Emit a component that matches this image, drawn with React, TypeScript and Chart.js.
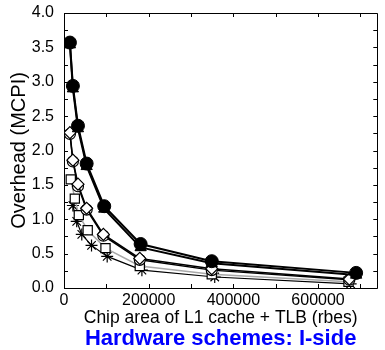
import { useEffect, useRef } from "react";
import { Chart, registerables } from "chart.js";

Chart.register(...registerables);

// Chip area (rbes) and overhead (MCPI) per series
const blackCircleX = [14000, 21000, 33000, 53500, 95000, 181000, 349000, 690000];
const blackCircleY = [3.57, 2.94, 2.36, 1.81, 1.19, 0.64, 0.39, 0.22];
const blackTriangleX = [14000, 21000, 33000, 53500, 95000, 181000, 349000, 690000];
const blackTriangleY = [3.54, 2.9, 2.32, 1.77, 1.15, 0.59, 0.36, 0.19];
const openDiamondX = [14000, 21000, 33000, 53500, 93000, 179000, 349000, 674000];
const openDiamondY = [2.26, 1.86, 1.51, 1.16, 0.78, 0.43, 0.28, 0.13];
const openCircleX = [14000, 21000, 33000, 53500, 93000, 179000, 349000, 674000];
const openCircleY = [2.24, 1.84, 1.48, 1.14, 0.76, 0.41, 0.26, 0.12];
const squareX = [16000, 25600, 35000, 56000, 98000, 179000, 349000, 672000];
const squareY = [1.58, 1.3, 1.06, 0.84, 0.58, 0.32, 0.2, 0.09];
const asteriskX = [21000, 30000, 42000, 65000, 102000, 184000, 356000, 677000];
const asteriskY = [1.2, 0.97, 0.78, 0.62, 0.46, 0.26, 0.16, 0.06];

const xMin = 0;
const xMax = 740000;
const xMinorStep = 100000;
const xLabels = [0, 200000, 400000, 600000];
const yMin = 0;
const yMax = 4;
const yMinorStep = 0.25;
const yLabels = [0, 0.5, 1, 1.5, 2, 2.5, 3, 3.5, 4];

const xTitle = "Chip area of L1 cache + TLB (rbes)";
const yTitle = "Overhead (MCPI)";
const chartTitle = "Hardware schemes: I-side";

const FONT = "'Liberation Sans', Arial, Helvetica, sans-serif";

const pts = (xs: number[], ys: number[]) => xs.map((x, i) => ({ x, y: ys[i] }));

const framePlugin = {
  id: "frame",
  afterLayout(chart: any) {
    const tb = chart.titleBlock;
    if (tb) {
      tb.left = chart.chartArea.left;
      tb.right = chart.chartArea.right;
    }
  },
  beforeDatasetsDraw(chart: any) {
    const { ctx, chartArea } = chart;
    const { left, right, top, bottom } = chartArea;
    const xs = chart.scales.x;
    const ys = chart.scales.y;
    ctx.save();
    ctx.strokeStyle = "#000";
    ctx.lineWidth = 1;
    ctx.beginPath();
    ctx.rect(Math.round(left) + 0.5, Math.round(top) + 0.5, Math.round(right - left), Math.round(bottom - top));
    ctx.stroke();
    ctx.beginPath();
    const tl = 4;
    for (let v = xMin; v <= xMax + 1e-6; v += xMinorStep) {
      const p = Math.round(xs.getPixelForValue(v)) + 0.5;
      ctx.moveTo(p, bottom);
      ctx.lineTo(p, bottom - tl);
      ctx.moveTo(p, top);
      ctx.lineTo(p, top + tl);
    }
    for (let v = yMin; v <= yMax + 1e-6; v += yMinorStep) {
      const p = Math.round(ys.getPixelForValue(v)) + 0.5;
      ctx.moveTo(left, p);
      ctx.lineTo(left + tl, p);
      ctx.moveTo(right, p);
      ctx.lineTo(right - tl, p);
    }
    ctx.stroke();
    ctx.restore();
  },
};

export default function App() {
  const ref = useRef<HTMLCanvasElement | null>(null);

  useEffect(() => {
    document.body.style.margin = "0";
    if (!ref.current) return;
    const chart = new Chart(ref.current, {
      type: "line",
      data: {
        datasets: [
          {
            label: "a",
            data: pts(blackCircleX, blackCircleY),
            borderColor: "#000",
            borderWidth: 2,
            pointStyle: "circle",
            pointRadius: 6.5,
            pointBackgroundColor: "#000",
            pointBorderColor: "#000",
            pointBorderWidth: 1,
          },
          {
            label: "b",
            data: pts(blackTriangleX, blackTriangleY),
            borderColor: "#000",
            borderWidth: 2,
            pointStyle: "triangle",
            pointRadius: 6.5,
            pointBackgroundColor: "#000",
            pointBorderColor: "#000",
            pointBorderWidth: 1,
          },
          {
            label: "c",
            data: pts(openDiamondX, openDiamondY),
            borderColor: "#000",
            borderWidth: 1.5,
            pointStyle: "rectRot",
            pointRadius: 6,
            pointBackgroundColor: "#fff",
            pointBorderColor: "#000",
            pointBorderWidth: 1.2,
          },
          {
            label: "d",
            data: pts(openCircleX, openCircleY),
            borderColor: "#000",
            borderWidth: 1.5,
            pointStyle: "circle",
            pointRadius: 5.5,
            pointBackgroundColor: "#fff",
            pointBorderColor: "#000",
            pointBorderWidth: 1.2,
          },
          {
            label: "e",
            data: pts(squareX, squareY),
            borderColor: "#a8a8a8",
            borderWidth: 1.5,
            pointStyle: "rect",
            pointRadius: 6.5,
            pointBackgroundColor: "#fff",
            pointBorderColor: "#000",
            pointBorderWidth: 1.2,
          },
          {
            label: "f",
            data: pts(asteriskX, asteriskY),
            borderColor: "#000",
            borderWidth: 1.2,
            pointStyle: "star",
            pointRadius: 6,
            pointBackgroundColor: "#000",
            pointBorderColor: "#000",
            pointBorderWidth: 1.2,
          },
        ],
      },
      options: {
        animation: false,
        responsive: false,
        layout: { padding: { top: 13, right: 2, left: 0, bottom: 0 } },
        plugins: {
          legend: { display: false },
          tooltip: { enabled: false },
          title: {
            display: true,
            text: chartTitle,
            position: "bottom",
            color: "#0000ff",
            font: { family: FONT, size: 22, weight: "bold", lineHeight: 1 },
            padding: { top: 0, bottom: 0 },
          },
        },
        scales: {
          x: {
            type: "linear",
            min: xMin,
            max: xMax,
            grid: { display: false, drawTicks: false },
            border: { display: false },
            afterFit: (s: any) => {
              s.height = 40;
              s.paddingLeft = 0;
              s.paddingRight = 0;
            },
            afterBuildTicks: (s: any) => {
              s.ticks = xLabels.map((v) => ({ value: v }));
            },
            ticks: {
              autoSkip: false,
              maxRotation: 0,
              minRotation: 0,
              padding: 3,
              color: "#000",
              font: { family: FONT, size: 16 },
              callback: (v: any) => String(v),
            },
            title: {
              display: true,
              text: xTitle,
              color: "#000",
              font: { family: FONT, size: 17.5 },
              padding: { top: 0, bottom: -1 },
            },
          },
          y: {
            min: yMin,
            max: yMax,
            grid: { display: false, drawTicks: false },
            border: { display: false },
            afterFit: (s: any) => {
              s.width = 64;
              s.paddingTop = 0;
              s.paddingBottom = 0;
            },
            afterBuildTicks: (s: any) => {
              s.ticks = yLabels.map((v) => ({ value: v }));
            },
            ticks: {
              autoSkip: false,
              padding: 10,
              color: "#000",
              font: { family: FONT, size: 16 },
              callback: (v: any) => Number(v).toFixed(1),
            },
            title: {
              display: true,
              text: yTitle,
              color: "#000",
              font: { family: FONT, size: 20 },
              padding: { top: 7, bottom: 0 },
            },
          },
        },
      },
      plugins: [framePlugin],
    } as any);
    return () => chart.destroy();
  }, []);

  return (
    <div style={{ width: 385, height: 350 }}>
      <canvas ref={ref} width={385} height={350} />
    </div>
  );
}
